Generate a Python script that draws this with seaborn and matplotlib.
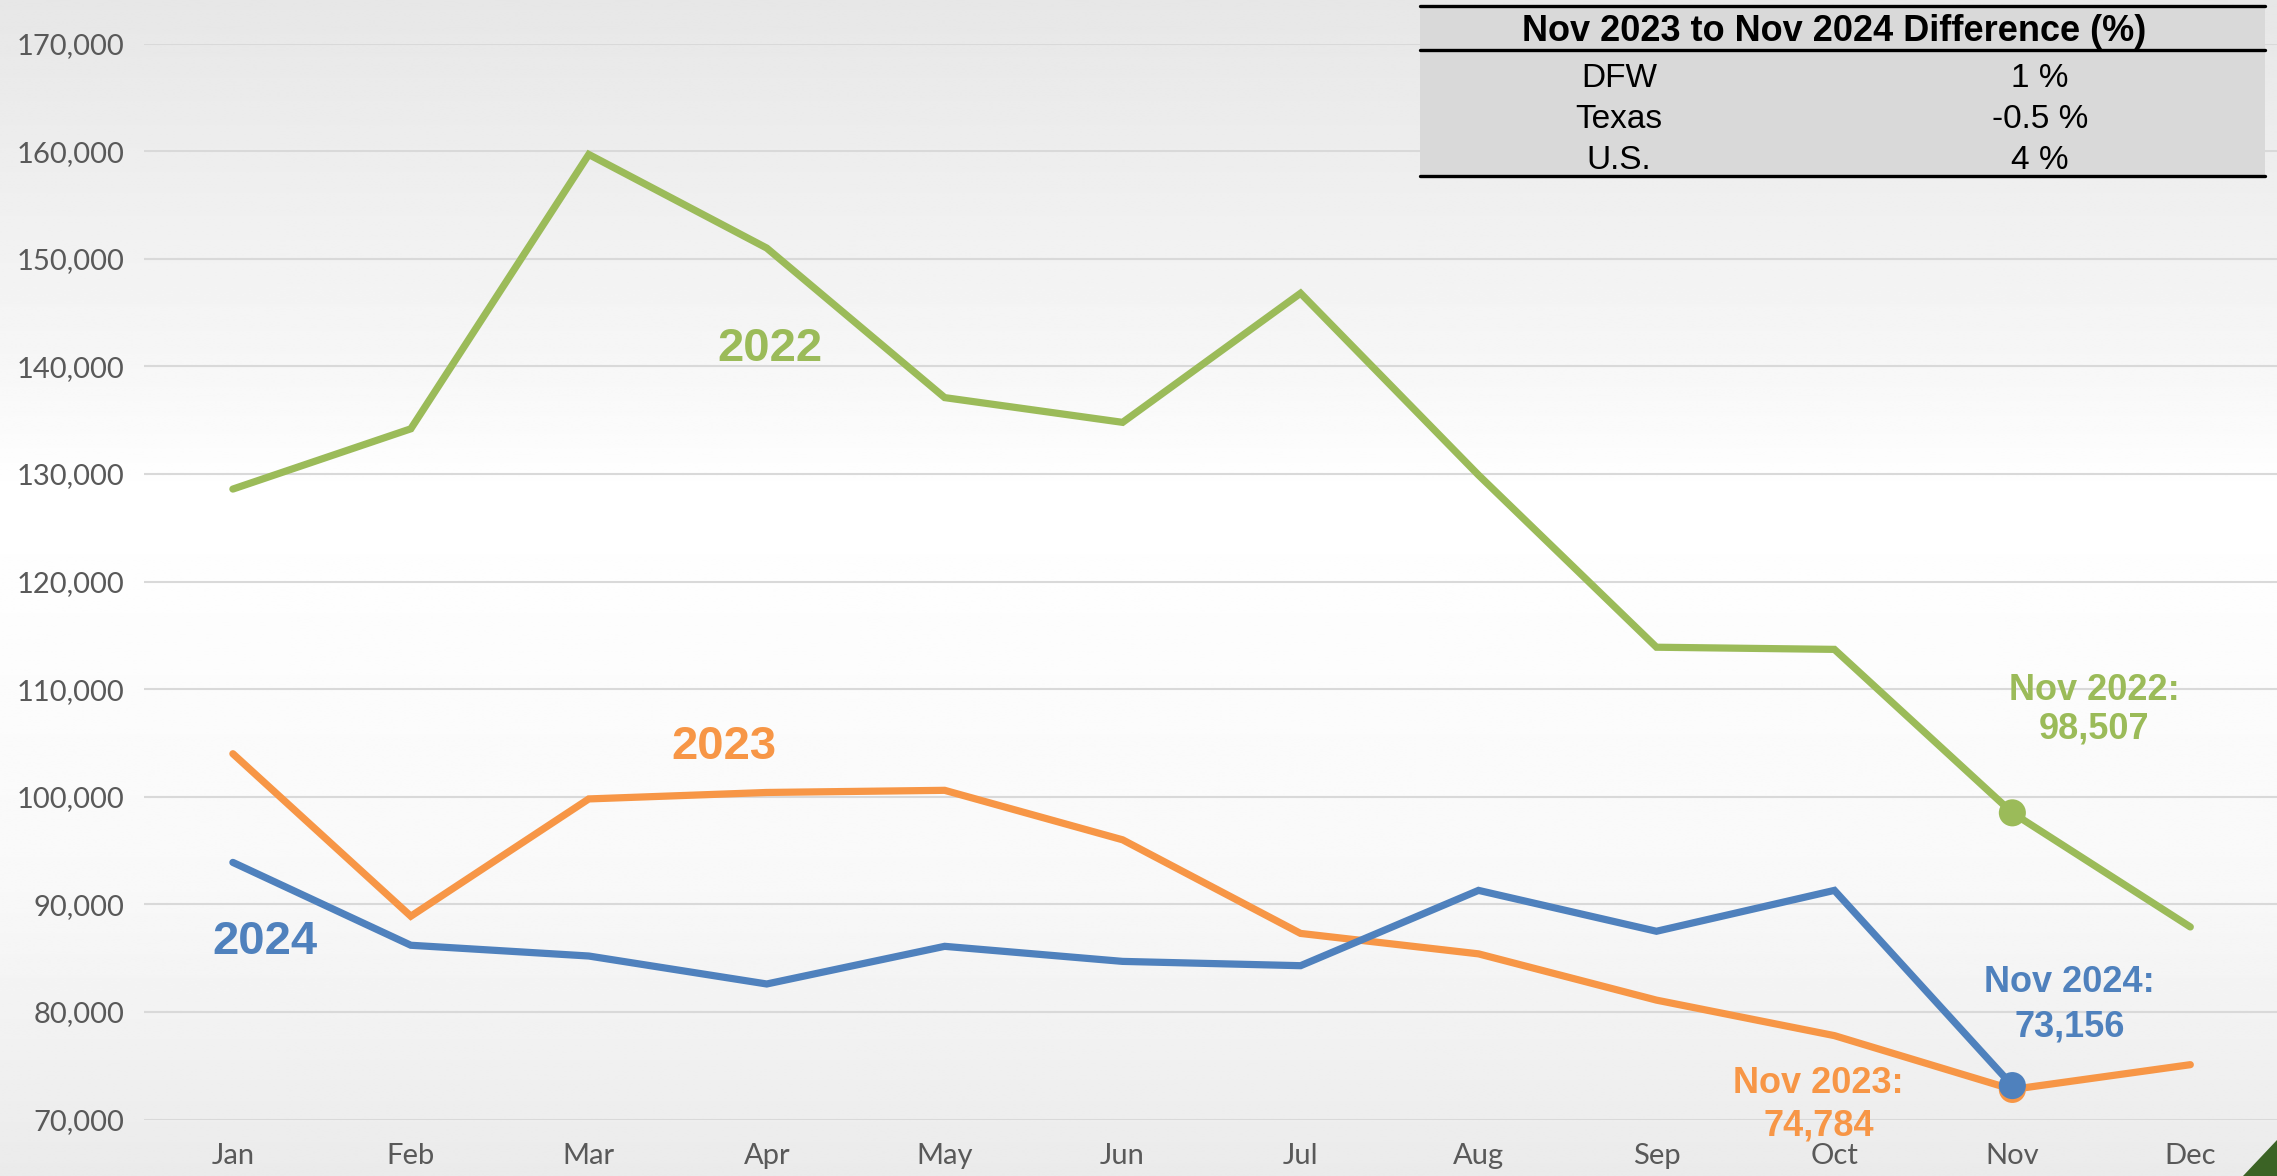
import numpy as np
import pandas as pd
import matplotlib
matplotlib.use("Agg")
import matplotlib.pyplot as plt
from matplotlib.patches import Polygon
import seaborn as sns

months = ["Jan", "Feb", "Mar", "Apr", "May", "Jun", "Jul", "Aug", "Sep", "Oct", "Nov", "Dec"]
sales_2022 = [128600, 134200, 159700, 151000, 137100, 134800, 146800, 129900, 113900, 113700, 98507, 87900]
sales_2023 = [104000, 88900, 99800, 100400, 100600, 96000, 87300, 85400, 81100, 77800, 72800, 75100]
sales_2024 = [93900, 86200, 85200, 82600, 86100, 84700, 84300, 91300, 87500, 91300, 73156]
years = ["2022", "2023", "2024"]
colors = {"2022": "#9BBB59", "2023": "#F79646", "2024": "#4F81BD"}
y_ticks = [70000, 80000, 90000, 100000, 110000, 120000, 130000, 140000, 150000, 160000, 170000]

table_title = "Nov 2023 to Nov 2024 Difference (%)"
table_regions = ["DFW", "Texas", "U.S."]
table_values = ["1 %", "-0.5 %", "4 %"]

nov_label_lines = {"2022": ["Nov 2022:", "98,507"],
                   "2023": ["Nov 2023:", "74,784"],
                   "2024": ["Nov 2024:", "73,156"]}

rows = []
for yr, vals in zip(years, [sales_2022, sales_2023, sales_2024]):
    for i, v in enumerate(vals):
        rows.append({"month": months[i], "pos": i, "year": yr, "value": v})
df = pd.DataFrame(rows)

sns.set_theme(style="white")
plt.rcParams["font.family"] = ["Lato", "DejaVu Sans"]

W, H = 2277, 1176
fig = plt.figure(figsize=(W / 100, H / 100), dpi=100)

# background gradient
bg = fig.add_axes([0, 0, 1, 1], zorder=0)
stops_y = [0.0, 0.30, 0.42, 0.75, 1.0]
stops_v = [0.905, 0.965, 1.0, 0.975, 0.92]
yy = np.linspace(0, 1, 400)
grad = np.interp(yy, stops_y, stops_v)
bg.imshow(np.tile(grad[:, None], (1, 4)), aspect="auto", cmap="gray", vmin=0, vmax=1,
          extent=[0, 1, 1, 0], interpolation="bilinear")
bg.set_xlim(0, 1)
bg.set_ylim(1, 0)
bg.axis("off")

ax = fig.add_axes([0.0632, 0.0480, 0.9378, 0.9149], zorder=1)
ax.set_facecolor("none")

for yr in years:
    sub = df[df["year"] == yr]
    sns.lineplot(data=sub, x="pos", y="value", color=colors[yr], linewidth=5.2,
                 ax=ax, legend=False, zorder=3, solid_capstyle="round", solid_joinstyle="miter")

nov = df[df["month"] == "Nov"]
for yr in ["2022", "2023", "2024"]:
    p = nov[nov["year"] == yr]
    sns.scatterplot(data=p, x="pos", y="value", color=colors[yr], s=380, edgecolor="none",
                    ax=ax, legend=False, zorder=4)

ax.set_xlim(-0.5, 11.5)
ax.set_ylim(70000, 170000)
ax.set_yticks(y_ticks)
ax.set_yticklabels([f"{v:,}" for v in y_ticks])
ax.set_xticks(range(12))
ax.set_xticklabels(months)
ax.grid(axis="y", color="#D9D9D9", linewidth=1.5, zorder=0)
ax.set_axisbelow(True)
for s in ax.spines.values():
    s.set_visible(False)
ax.tick_params(axis="y", length=0, pad=14, labelsize=21, labelcolor="#595959")
ax.tick_params(axis="x", length=0, pad=17, labelsize=21, labelcolor="#595959")
ax.set_xlabel("")
ax.set_ylabel("")

bold_font = ["Liberation Sans", "DejaVu Sans"]
ax.text(3.02, 140500, "2022", color=colors["2022"], fontsize=34, fontweight="bold",
        family=bold_font, ha="center", va="baseline", zorder=5)
ax.text(2.76, 103500, "2023", color=colors["2023"], fontsize=34, fontweight="bold",
        family=bold_font, ha="center", va="baseline", zorder=5)
ax.text(0.18, 85430, "2024", color=colors["2024"], fontsize=34, fontweight="bold",
        family=bold_font, ha="center", va="baseline", zorder=5)

label_pos = {"2022": (10.46, 109040, 105420),
             "2024": (10.32, 81900, 77720),
             "2023": (8.91, 72460, 68550)}
for yr, (xp, y1, y2) in label_pos.items():
    l1, l2 = nov_label_lines[yr]
    ax.text(xp, y1, l1, color=colors[yr], fontsize=26, fontweight="bold", family=bold_font,
            ha="center", va="baseline", zorder=5, clip_on=False)
    ax.text(xp, y2, l2, color=colors[yr], fontsize=26, fontweight="bold", family=bold_font,
            ha="center", va="baseline", zorder=5, clip_on=False)

# table (figure pixel coords -> fractions)
def fx(px):
    return px / W

def fy(py):
    return 1 - py / H

tab_left, tab_right = 1420, 2265
tab_top, tab_head, tab_bot = 6, 50, 176
fig.patches.append(Polygon([[fx(tab_left), fy(tab_top)], [fx(tab_right), fy(tab_top)],
                            [fx(tab_right), fy(tab_bot)], [fx(tab_left), fy(tab_bot)]],
                           closed=True, transform=fig.transFigure, facecolor="#D9D9D9",
                           edgecolor="none", zorder=5))
for py in [tab_top, tab_head, tab_bot]:
    fig.add_artist(plt.Line2D([fx(tab_left), fx(tab_right)], [fy(py), fy(py)],
                              transform=fig.transFigure, color="black", linewidth=2.4, zorder=6))
narrow = ["Liberation Sans Narrow", "Liberation Sans", "DejaVu Sans"]
fig.text(fx(1834), fy(41), table_title, fontsize=26, fontweight="bold", family=narrow,
         ha="center", va="baseline", color="black", zorder=7)
row_base = [87, 128, 169]
for ry, reg, val in zip(row_base, table_regions, table_values):
    fig.text(fx(1619), fy(ry), reg, fontsize=24, family=narrow, ha="center", va="baseline",
             color="black", zorder=7)
    fig.text(fx(2040), fy(ry), val, fontsize=24, family=narrow, ha="center", va="baseline",
             color="black", zorder=7)

# corner decoration
fig.patches.append(Polygon([[fx(2243), 0], [1, 0], [1, fy(1140)]], closed=True,
                           transform=fig.transFigure, facecolor="#3B6325", edgecolor="none", zorder=8))

fig.savefig("out.png", dpi=100)
